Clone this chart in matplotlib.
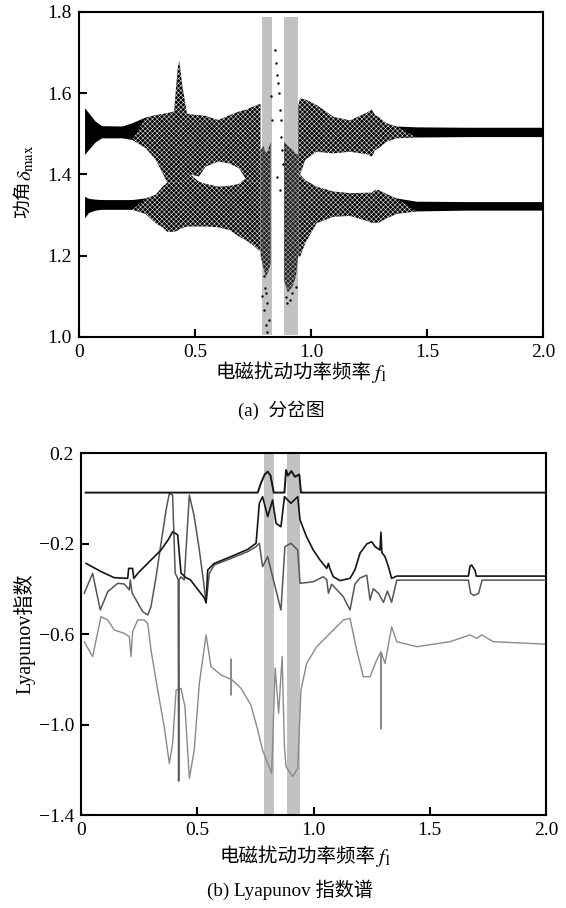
import matplotlib.pyplot as plt

plt.rcParams['font.family'] = ['Liberation Serif', 'Noto Sans CJK SC']
plt.rcParams['mathtext.fontset'] = 'stix'
plt.rcParams['hatch.linewidth'] = 0.35

# shaded chaotic windows (f1)
shade_start = [0.789, 0.884]
shade_end = [0.832, 0.944]

# bifurcation envelopes, left of the shaded windows
bif_f_left = [0.026, 0.043, 0.072, 0.10, 0.187, 0.23, 0.287, 0.33, 0.36, 0.38, 0.41, 0.425,
              0.432, 0.445, 0.465, 0.48, 0.517, 0.545, 0.60, 0.65, 0.69, 0.718, 0.75, 0.782]
up_top_left = [1.563, 1.551, 1.530, 1.519, 1.518, 1.526, 1.540, 1.546, 1.549, 1.551, 1.555, 1.66,
               1.68, 1.62, 1.55, 1.548, 1.546, 1.544, 1.534, 1.546, 1.555, 1.559, 1.567, 1.574]
up_bot_left = [1.448, 1.460, 1.479, 1.489, 1.489, 1.485, 1.465, 1.437, 1.404, 1.38, 1.38, 1.38,
               1.38, 1.38, 1.39, 1.40, 1.395, 1.419, 1.432, 1.427, 1.415, 1.39, 1.38, 1.38]
lo_top_left = [1.345, 1.340, 1.338, 1.337, 1.337, 1.337, 1.341, 1.35, 1.37, 1.38, 1.38, 1.38,
               1.38, 1.38, 1.39, 1.40, 1.382, 1.377, 1.37, 1.372, 1.377, 1.39, 1.38, 1.38]
lo_bot_left = [1.292, 1.305, 1.311, 1.313, 1.313, 1.313, 1.303, 1.28, 1.27, 1.259, 1.259, 1.262,
               1.265, 1.268, 1.272, 1.272, 1.272, 1.272, 1.27, 1.263, 1.247, 1.239, 1.226, 1.21]

# bifurcation envelopes, right of the shaded windows
bif_f_right = [0.945, 0.953, 0.975, 1.024, 1.096, 1.168, 1.240, 1.262, 1.276, 1.290, 1.326,
               1.369, 1.456, 1.671, 2.0]
up_top_right = [1.57, 1.587, 1.585, 1.571, 1.542, 1.533, 1.552, 1.560, 1.546, 1.542, 1.526,
                1.518, 1.516, 1.515, 1.515]
up_bot_right = [1.40, 1.40, 1.436, 1.456, 1.452, 1.456, 1.450, 1.444, 1.46, 1.464, 1.481,
                1.489, 1.491, 1.492, 1.492]
lo_top_right = [1.40, 1.40, 1.386, 1.37, 1.358, 1.354, 1.355, 1.355, 1.362, 1.362, 1.352,
                1.341, 1.333, 1.332, 1.332]
lo_bot_right = [1.20, 1.198, 1.231, 1.28, 1.296, 1.298, 1.286, 1.281, 1.281, 1.281, 1.292,
                1.303, 1.309, 1.311, 1.311]

# dense chaotic columns inside the shaded windows
chaos1_f = [0.783, 0.795, 0.805, 0.815, 0.826]
chaos1_top = [1.46, 1.47, 1.452, 1.46, 1.48]
chaos1_bot = [1.198, 1.17, 1.149, 1.16, 1.18]
chaos2_f = [0.884, 0.90, 0.92, 0.935, 0.945]
chaos2_top = [1.48, 1.47, 1.46, 1.45, 1.45]
chaos2_bot = [1.14, 1.11, 1.124, 1.15, 1.20]

# isolated points
sparse_f = [0.845, 0.848, 0.855, 0.859, 0.862, 0.868, 0.869, 0.872, 0.876, 0.879, 0.853, 0.866,
            0.797, 0.805, 0.812, 0.797, 0.819, 0.807, 0.812, 0.826, 0.83, 0.891, 0.898, 0.91,
            0.92, 0.934, 0.80, 0.79]
sparse_d = [1.706, 1.674, 1.645, 1.624, 1.60, 1.559, 1.534, 1.493, 1.46, 1.427, 1.395, 1.362,
            1.149, 1.107, 1.083, 1.066, 1.042, 1.03, 1.013, 1.592, 1.534, 1.099, 1.083, 1.09,
            1.107, 1.124, 1.12, 1.10]

# Lyapunov exponents
lam1_f = [0.02, 0.76, 0.775, 0.79, 0.803, 0.815, 0.829, 0.875, 0.882, 0.89, 0.905, 0.92,
          0.939, 0.946, 2.0]
lam1 = [0.025, 0.025, 0.07, 0.105, 0.118, 0.10, 0.025, 0.025, 0.125, 0.10, 0.12, 0.095,
        0.105, 0.025, 0.025]

lam2_f = [0.022, 0.086, 0.143, 0.201, 0.205, 0.222, 0.227, 0.247, 0.301, 0.344, 0.376, 0.394,
          0.416, 0.43, 0.45, 0.47, 0.50, 0.53, 0.538, 0.545, 0.573, 0.645, 0.717, 0.753, 0.767,
          0.781, 0.803, 0.824, 0.839, 0.86, 0.875, 0.903, 0.932, 0.942, 0.970, 0.999, 1.028,
          1.057, 1.064, 1.070, 1.085, 1.114, 1.157, 1.178, 1.20, 1.229, 1.250, 1.265, 1.286,
          1.29, 1.294, 1.3075, 1.322, 1.336, 1.358, 1.666, 1.673, 1.68, 1.695, 1.70, 2.0]
lam2 = [-0.288, -0.324, -0.351, -0.354, -0.31, -0.31, -0.354, -0.329, -0.273, -0.229, -0.182,
        -0.148, -0.162, -0.33, -0.35, -0.36, -0.40, -0.44, -0.46, -0.317, -0.288, -0.258,
        -0.226, -0.199, -0.022, 0.007, -0.081, -0.008, -0.111, -0.126, 0.007, -0.022, 0.007,
        -0.096, -0.17, -0.229, -0.273, -0.31, -0.288, -0.31, -0.347, -0.364, -0.354, -0.317,
        -0.243, -0.202, -0.192, -0.214, -0.229, -0.15, -0.24, -0.258, -0.302, -0.354, -0.344,
        -0.344, -0.30, -0.295, -0.32, -0.344, -0.344]

lam3_f = [0.014, 0.05, 0.083, 0.115, 0.158, 0.186, 0.208, 0.212, 0.22, 0.229, 0.265, 0.287,
          0.301, 0.323, 0.344, 0.366, 0.38, 0.394, 0.405, 0.418, 0.42, 0.422, 0.43, 0.444,
          0.456, 0.466, 0.487, 0.509, 0.528, 0.538, 0.552, 0.573, 0.645, 0.717, 0.753, 0.767,
          0.781, 0.803, 0.824, 0.86, 0.877, 0.903, 0.932, 0.942, 0.999, 1.042, 1.057, 1.064,
          1.078, 1.128, 1.157, 1.178, 1.2, 1.229, 1.243, 1.257, 1.279, 1.301, 1.318, 1.336,
          1.358, 1.666, 1.676, 1.69, 1.71, 1.725, 2.0]
lam3 = [-0.42, -0.332, -0.494, -0.413, -0.376, -0.379, -0.405, -0.361, -0.42, -0.435, -0.501,
        -0.516, -0.479, -0.347, -0.2, -0.052, 0.022, 0.014, -0.33, -0.36, -1.25, -0.36, -0.347,
        -0.361, -0.155, 0.014, -0.081, -0.229, -0.376, -0.464, -0.332, -0.295, -0.266, -0.236,
        -0.214, -0.199, -0.302, -0.258, -0.347, -0.494, -0.214, -0.199, -0.229, -0.376, -0.369,
        -0.347, -0.36, -0.42, -0.38, -0.435, -0.494, -0.38, -0.352, -0.34, -0.45, -0.40, -0.42,
        -0.46, -0.41, -0.46, -0.362, -0.362, -0.42, -0.43, -0.42, -0.362, -0.362]

lam4_f = [0.014, 0.05, 0.086, 0.115, 0.143, 0.186, 0.208, 0.215, 0.222, 0.244, 0.272, 0.287,
          0.301, 0.33, 0.358, 0.38, 0.394, 0.409, 0.43, 0.447, 0.466, 0.487, 0.509, 0.538,
          0.559, 0.602, 0.644, 0.645, 0.646, 0.647, 0.688, 0.731, 0.76, 0.781, 0.803, 0.82,
          0.835, 0.85, 0.865, 0.875, 0.882, 0.91, 0.932, 0.946, 0.9706, 1.0137, 1.0566, 1.1283,
          1.157, 1.1857, 1.2143, 1.243, 1.2717, 1.289, 1.29, 1.291, 1.3075, 1.3362, 1.3577,
          1.4437, 1.5871, 1.6731, 1.7018, 1.7233, 1.7735, 2.0]
lam4 = [-0.634, -0.70, -0.523, -0.538, -0.582, -0.597, -0.612, -0.70, -0.59, -0.538, -0.538,
        -0.553, -0.671, -0.848, -1.01, -1.172, -1.083, -0.848, -0.84, -0.921, -1.238, -1.113,
        -0.818, -0.604, -0.744, -0.781, -0.80, -0.71, -0.87, -0.80, -0.84, -0.914, -1.024,
        -1.113, -1.172, -1.216, -0.75, -0.95, -0.70, -1.1, -1.186, -1.23, -1.194, -0.848,
        -0.73, -0.656, -0.612, -0.538, -0.531, -0.671, -0.789, -0.789, -0.715, -0.68, -1.02,
        -0.68, -0.73, -0.568, -0.634, -0.656, -0.634, -0.604, -0.619, -0.604, -0.634, -0.645]

fig = plt.figure(figsize=(5.66, 9.08), dpi=100)
ax1 = fig.add_axes([0.1396, 0.6289, 0.8198, 0.3579])
ax2 = fig.add_axes([0.1431, 0.1024, 0.8216, 0.3987])

shade_color = '#c2c2c2'

# (a) bifurcation diagram
for s, e in zip(shade_start, shade_end):
    ax1.axvspan(s, e, ymin=0.006, ymax=0.985, color=shade_color, lw=0, zorder=1)

for f, top, bot in [(bif_f_left, up_top_left, up_bot_left),
                    (bif_f_left, lo_top_left, lo_bot_left),
                    (bif_f_right, up_top_right, up_bot_right),
                    (bif_f_right, lo_top_right, lo_bot_right)]:
    ax1.fill_between(f, bot, top, facecolor='black', edgecolor='none', lw=0, zorder=2)
    chaotic = [(0.24 < x < 0.79) or (0.94 < x < 1.38) for x in f]
    ax1.fill_between(f, bot, top, where=chaotic, interpolate=True, facecolor='none',
                     edgecolor='white', hatch='xxxxxxx', lw=0, zorder=3)

for f, top, bot in [(chaos1_f, chaos1_top, chaos1_bot), (chaos2_f, chaos2_top, chaos2_bot)]:
    ax1.fill_between(f, bot, top, facecolor='#222222', edgecolor='none', lw=0, zorder=2)
    ax1.fill_between(f, bot, top, facecolor='none', edgecolor=shade_color,
                     hatch='xxxxxxx', lw=0, zorder=3)

ax1.scatter(sparse_f, sparse_d, s=3, color='black', lw=0, zorder=4)

ax1.set_xlim(0, 2.0)
ax1.set_ylim(1.0, 1.8)
ax1.set_xticks([0, 0.5, 1.0, 1.5, 2.0])
ax1.set_xticklabels(['0', '0.5', '1.0', '1.5', '2.0'])
ax1.set_yticks([1.0, 1.2, 1.4, 1.6, 1.8])
ax1.set_yticklabels(['1.0', '1.2', '1.4', '1.6', '1.8'])

# (b) Lyapunov exponents
for s, e in zip(shade_start, shade_end):
    ax2.axvspan(s, e, color=shade_color, lw=0, zorder=1)

ax2.plot(lam4_f, lam4, color='#8a8a8a', lw=1.0, zorder=2)
ax2.plot(lam3_f, lam3, color='#555555', lw=1.1, zorder=3)
ax2.plot(lam2_f, lam2, color='#151515', lw=1.2, zorder=4)
ax2.plot(lam1_f, lam1, color='#151515', lw=1.4, zorder=5)

ax2.set_xlim(0, 2.0)
ax2.set_ylim(-1.4, 0.2)
ax2.set_xticks([0, 0.5, 1.0, 1.5, 2.0])
ax2.set_xticklabels(['0', '0.5', '1.0', '1.5', '2.0'])
ax2.set_yticks([0.2, -0.2, -0.6, -1.0, -1.4])
ax2.set_yticklabels(['0.2', '\u22120.2', '\u22120.6', '\u22121.0', '\u22121.4'])
ax2.set_ylabel('Lyapunov指数', fontsize=14.5, labelpad=2)

for ax in (ax1, ax2):
    for sp in ax.spines.values():
        sp.set_linewidth(1.5)
    ax.tick_params(direction='in', length=6, width=1.5, labelsize=14, pad=5,
                   top=False, right=False)

# labels split so the CJK part is plain text and the symbol part is mathtext
fig.text(24 / 566, 1 - 218 / 908, '功角', rotation=90, fontsize=13.5,
         ha='center', va='bottom')
fig.text(26 / 566, 1 - 181 / 908, r'$\delta_{\rm max}$', rotation=90, fontsize=15,
         ha='center', va='bottom')

for yc, xr in [(373, 372), (857, 376)]:
    fig.text(xr / 566, 1 - yc / 908, '电磁扰动功率频率', fontsize=14,
             ha='right', va='center')
    fig.text((xr - 1) / 566, 1 - (yc + 1) / 908, r'$f_1$', fontsize=15,
             ha='left', va='center')

fig.text(281 / 566, 1 - 410 / 908, '(a)  分岔图', fontsize=13.5, ha='center', va='center')
fig.text(290 / 566, 1 - 890 / 908, '(b) Lyapunov 指数谱', fontsize=13.8,
         ha='center', va='center')

fig.savefig('out.png', dpi=100)
